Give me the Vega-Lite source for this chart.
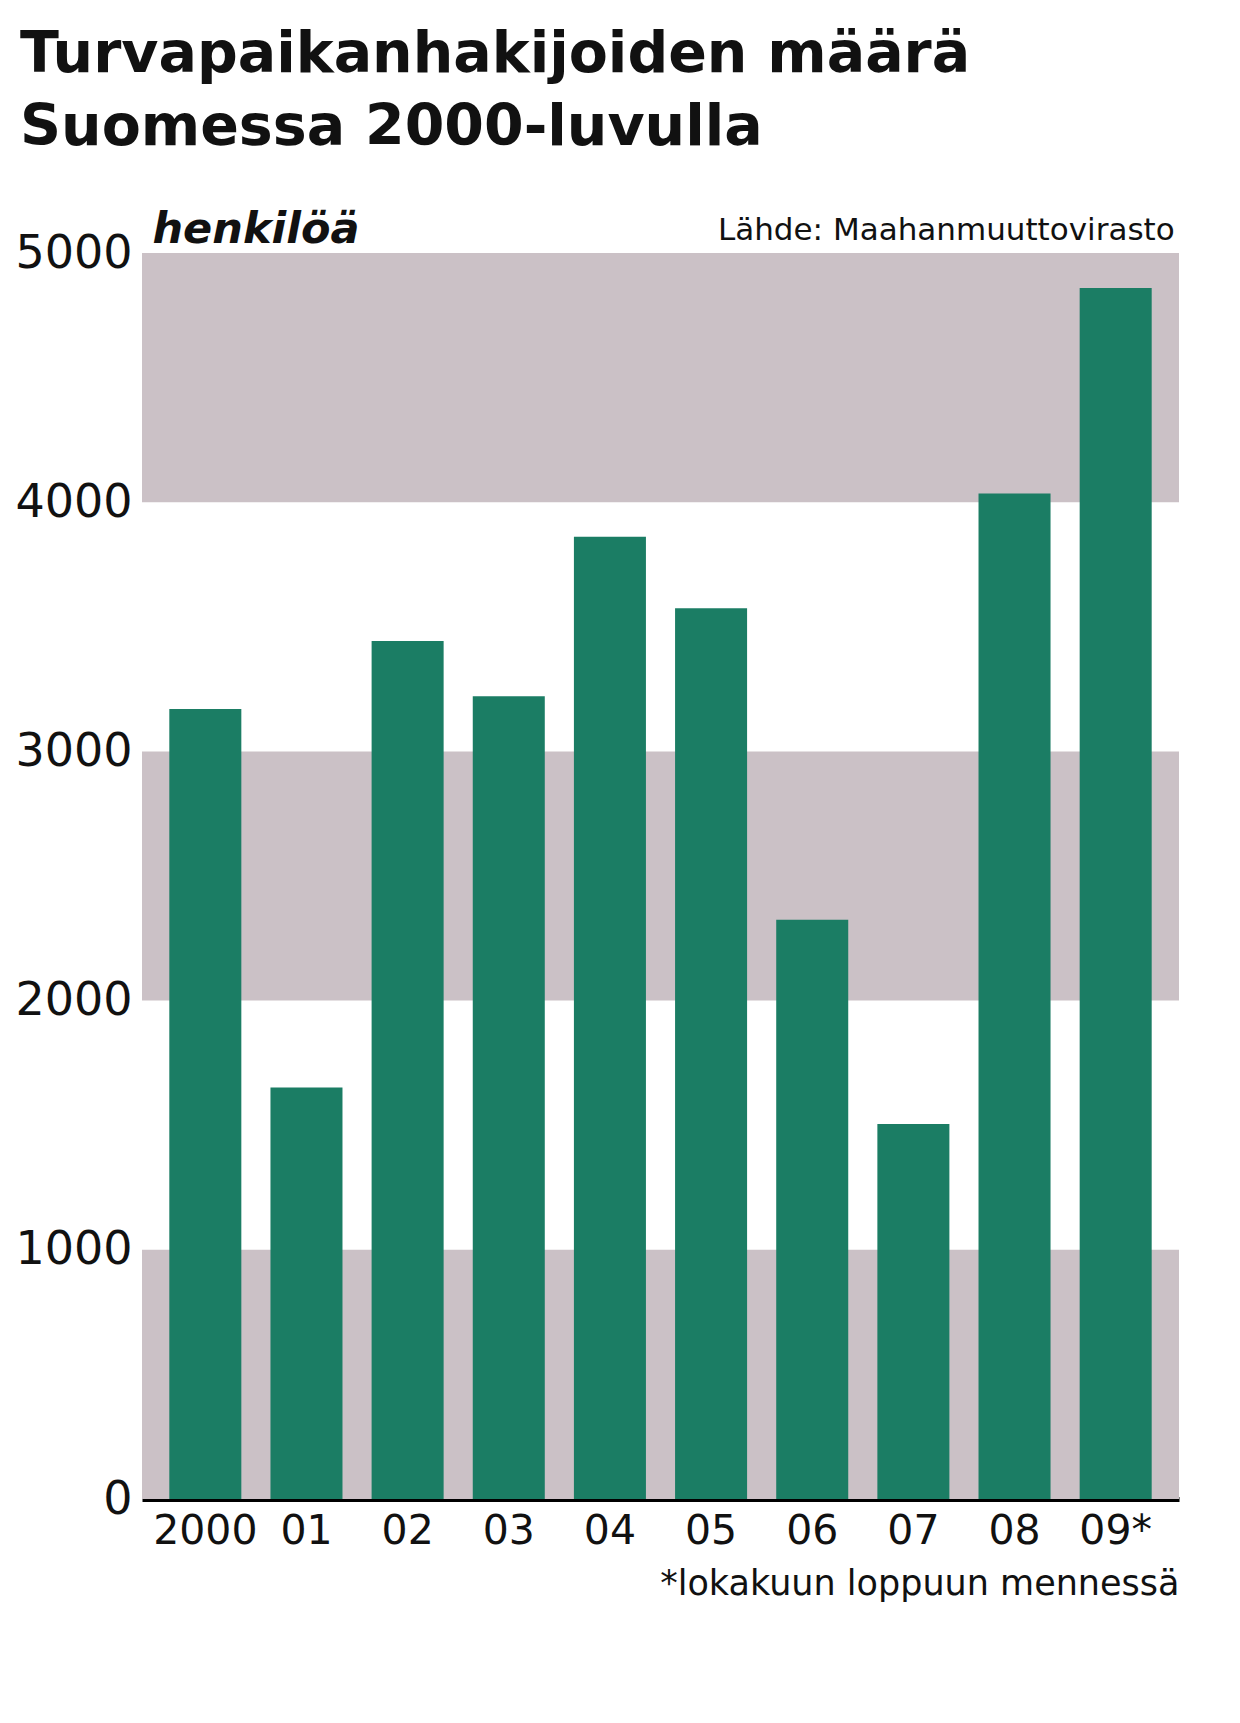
{
  "$schema": "https://vega.github.io/schema/vega-lite/v6.json",
  "autosize": {"type": "none"},
  "padding": {"left": 142, "top": 253, "right": 61, "bottom": 224},
  "width": 1037,
  "height": 1246,
  "background": "white",
  "config": {"view": {"stroke": null}, "font": "DejaVu Sans"},
  "title": {
    "text": ["Turvapaikanhakijoiden määrä", "Suomessa 2000-luvulla"],
    "anchor": "start",
    "frame": "group",
    "font": "DejaVu Sans",
    "fontSize": 57,
    "fontWeight": "bold",
    "color": "#111111",
    "lineHeight": 73,
    "dx": -122,
    "offset": 51
  },
  "datasets": {
    "kaistat": [
      {"alku": 0, "loppu": 1000},
      {"alku": 2000, "loppu": 3000},
      {"alku": 4000, "loppu": 5000}
    ],
    "hakijat": [
      {"vuosi": "2000", "hakijat": 3170},
      {"vuosi": "01", "hakijat": 1651},
      {"vuosi": "02", "hakijat": 3443},
      {"vuosi": "03", "hakijat": 3221},
      {"vuosi": "04", "hakijat": 3861},
      {"vuosi": "05", "hakijat": 3574},
      {"vuosi": "06", "hakijat": 2324},
      {"vuosi": "07", "hakijat": 1505},
      {"vuosi": "08", "hakijat": 4035},
      {"vuosi": "09*", "hakijat": 4860}
    ],
    "lahde": [
      {"teksti": "Lähde: Maahanmuuttovirasto"}
    ]
  },
  "layer": [
    {
      "data": {"name": "kaistat"},
      "mark": {"type": "rect", "color": "#cbc1c6"},
      "encoding": {
        "x": {"value": 0},
        "x2": {"value": "width"},
        "y": {
          "field": "alku",
          "type": "quantitative",
          "scale": {"domain": [0, 5000], "nice": false},
          "axis": {
            "values": [0, 1000, 2000, 3000, 4000, 5000],
            "format": "d",
            "labelFontSize": 46,
            "labelPadding": 10,
            "labelColor": "#111111",
            "labelFont": "DejaVu Sans",
            "ticks": false,
            "domain": false,
            "grid": false,
            "title": "henkilöä",
            "titleAngle": 0,
            "titleX": 10,
            "titleY": -2,
            "titleAlign": "left",
            "titleBaseline": "bottom",
            "titleFontSize": 43,
            "titleFontStyle": "italic",
            "titleFontWeight": "bold",
            "titleColor": "#111111"
          }
        },
        "y2": {"field": "loppu"}
      }
    },
    {
      "data": {"name": "hakijat"},
      "mark": {"type": "bar", "color": "#1b7d64"},
      "encoding": {
        "x": {
          "field": "vuosi",
          "type": "nominal",
          "sort": null,
          "scale": {"paddingInner": 0.288, "paddingOuter": 0.27},
          "axis": {
            "labelAngle": 0,
            "labelFontSize": 41,
            "labelPadding": 12,
            "labelColor": "#111111",
            "ticks": false,
            "domain": true,
            "domainColor": "#000000",
            "domainWidth": 5,
            "grid": false,
            "title": "*lokakuun loppuun mennessä",
            "titleAnchor": "end",
            "titleFontSize": 35,
            "titleFontWeight": "normal",
            "titleColor": "#111111",
            "titlePadding": 15
          }
        },
        "y": {
          "field": "hakijat",
          "type": "quantitative",
          "scale": {"domain": [0, 5000], "nice": false},
          "axis": {
            "values": [0, 1000, 2000, 3000, 4000, 5000],
            "format": "d",
            "labelFontSize": 46,
            "labelPadding": 10,
            "labelColor": "#111111",
            "labelFont": "DejaVu Sans",
            "ticks": false,
            "domain": false,
            "grid": false,
            "title": "henkilöä",
            "titleAngle": 0,
            "titleX": 10,
            "titleY": -2,
            "titleAlign": "left",
            "titleBaseline": "bottom",
            "titleFontSize": 43,
            "titleFontStyle": "italic",
            "titleFontWeight": "bold",
            "titleColor": "#111111"
          }
        }
      }
    },
    {
      "data": {"name": "lahde"},
      "mark": {"type": "text", "align": "right", "baseline": "bottom", "fontSize": 31, "color": "#111111", "dx": 23, "dy": -6},
      "encoding": {
        "x": {"datum": "09*", "type": "nominal", "bandPosition": 1},
        "y": {"datum": 5000, "type": "quantitative"},
        "text": {"field": "teksti"}
      }
    }
  ]
}
